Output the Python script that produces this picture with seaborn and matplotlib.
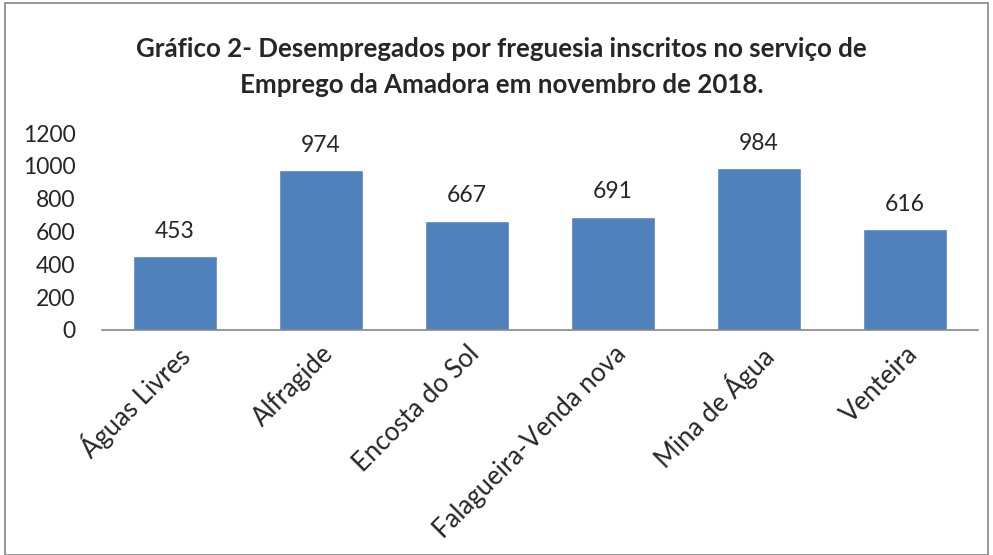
import matplotlib
matplotlib.use('Agg')
import matplotlib.pyplot as plt
import seaborn as sns
import pandas as pd
from matplotlib.patches import Rectangle

# Data
freguesias = ['Águas Livres', 'Alfragide', 'Encosta do Sol',
              'Falagueira-Venda nova', 'Mina de Água', 'Venteira']
desempregados = [453, 974, 667, 691, 984, 616]
y_ticks = [0, 200, 400, 600, 800, 1000, 1200]

df = pd.DataFrame({'freguesia': freguesias, 'valor': desempregados})

sns.set_style('white')
plt.rcParams['font.family'] = ['Lato', 'DejaVu Sans']

fig = plt.figure(figsize=(9.93, 5.55), dpi=100)
ax = fig.add_axes([102 / 993, 1 - 330 / 555, 876 / 993, 197 / 555])

sns.barplot(data=df, x='freguesia', y='valor', color='#4F81BD',
            width=0.57, saturation=1, ax=ax)

# value labels above the bars
for i, v in enumerate(desempregados):
    ax.text(i, v + 150, str(v), ha='center', va='center', fontsize=16.5)

ax.set_ylim(0, 1200)
ax.set_xlim(-0.5, len(freguesias) - 0.5)
ax.set_yticks(y_ticks)
ax.set_yticklabels([str(t) for t in y_ticks], fontsize=16.5)
ax.set_xticks(range(len(freguesias)))
ax.set_xticklabels(freguesias, rotation=45, ha='right', rotation_mode='anchor', fontsize=18.5)
ax.tick_params(axis='both', length=0, pad=8)
ax.tick_params(axis='y', pad=19)
ax.set_xlabel('')
ax.set_ylabel('')
for s in ['top', 'right', 'left']:
    ax.spines[s].set_visible(False)
ax.spines['bottom'].set_color('#868686')
ax.spines['bottom'].set_linewidth(1.2)

fig.text(0.505, 1 - 67 / 555,
         'Gráfico 2- Desempregados por freguesia inscritos no serviço de\nEmprego da Amadora em novembro de 2018.',
         ha='center', va='center', fontsize=18.6, fontweight='bold', linespacing=1.6)

# chart border
fig.patches.append(Rectangle((5 / 993, 0), 1 - 10 / 993, 1 - 3 / 555, transform=fig.transFigure,
                             fill=False, edgecolor='#868686', linewidth=1.2))

plt.savefig('out.png', dpi=100)
